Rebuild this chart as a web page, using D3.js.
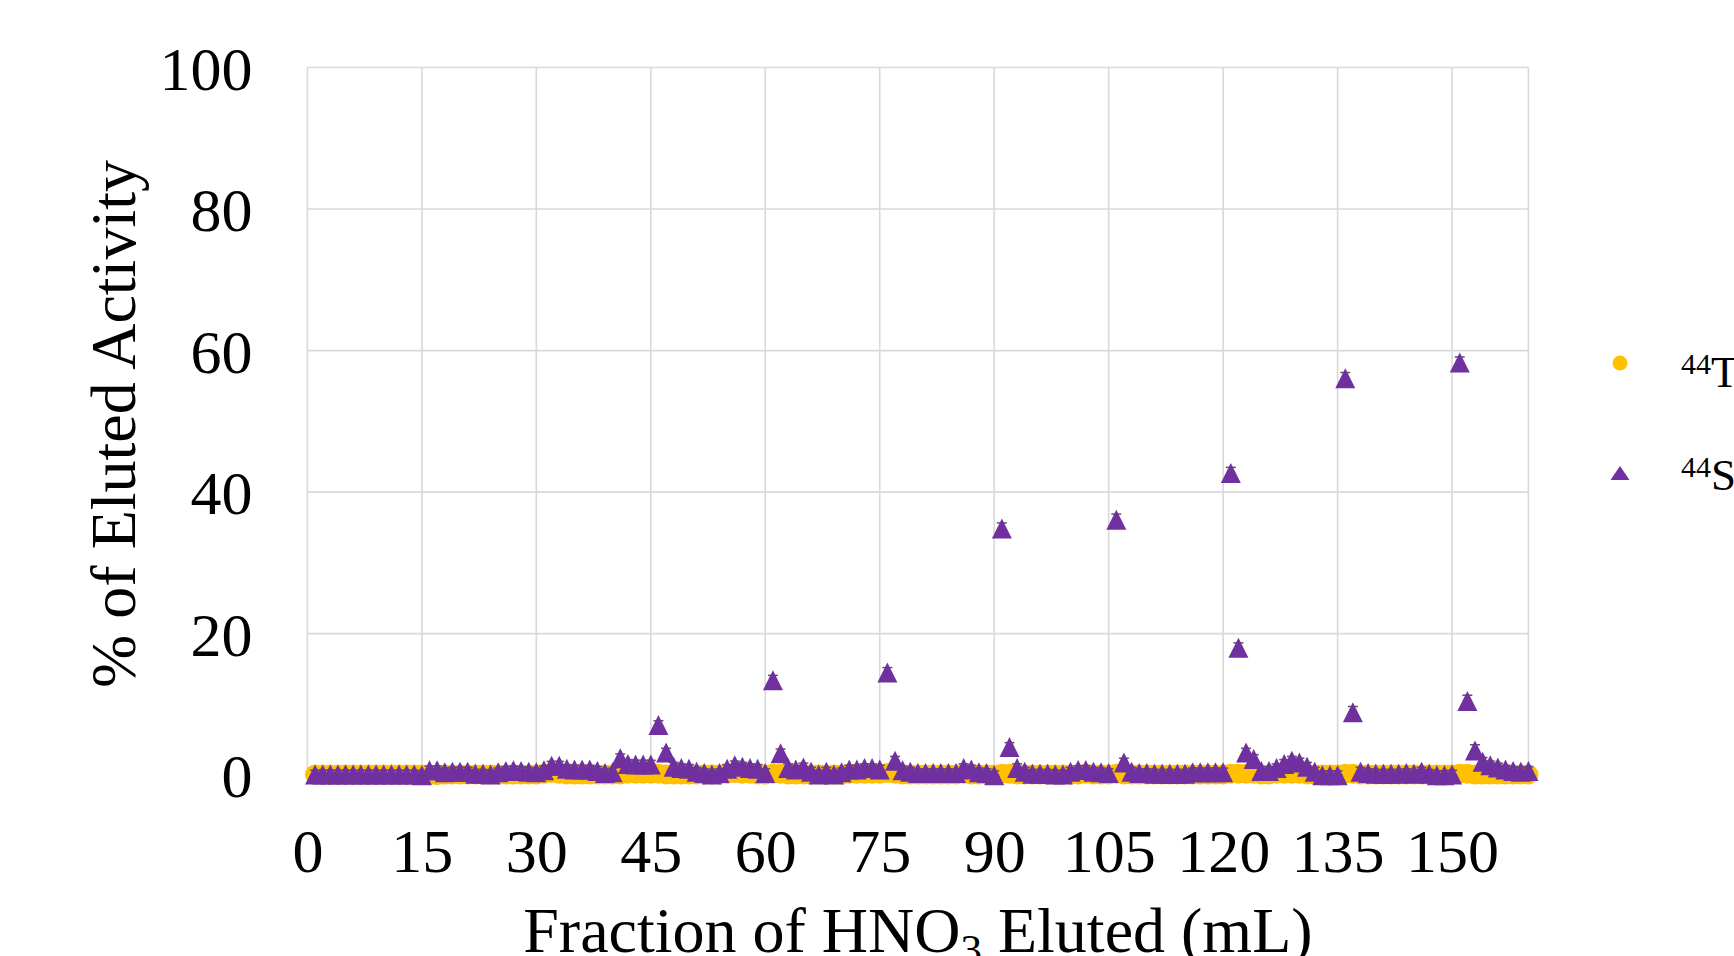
<!DOCTYPE html>
<html>
<head>
<meta charset="utf-8">
<script src="https://cdn.jsdelivr.net/npm/d3@7"></script>
<style>
  html, body { margin: 0; padding: 0; background: #ffffff; overflow: hidden; }
  svg { display: block; }
  text { font-family: "Liberation Serif", "Times New Roman", serif; fill: #000; }
</style>
</head>
<body>
<svg id="chart" width="1734" height="956"></svg>
<script>
// Fraction number (mL of HNO3 collected)
const fractions = [
  1,2,3,4,5,6,7,8,9,10,11,12,13,14,15,16,17,18,19,20,
  21,22,23,24,25,26,27,28,29,30,31,32,33,34,35,36,37,38,39,40,
  41,42,43,44,45,46,47,48,49,50,51,52,53,54,55,56,57,58,59,60,
  61,62,63,64,65,66,67,68,69,70,71,72,73,74,75,76,77,78,79,80,
  81,82,83,84,85,86,87,88,89,90,91,92,93,94,95,96,97,98,99,100,
  101,102,103,104,105,106,107,108,109,110,111,112,113,114,115,116,117,118,119,120,
  121,122,123,124,125,126,127,128,129,130,131,132,133,134,135,136,137,138,139,140,
  141,142,143,144,145,146,147,148,149,150,151,152,153,154,155,156,157,158,159,160
];

// % of eluted activity, 44Ti
const tiActivity = [
  0.1,0.1,0.1,0.1,0.1,0.1,0.1,0.1,0.1,0.1,0.1,0.1,0.1,0.1,0.1,0.0,0.0,0.1,0.1,0.1,
  0.1,0.1,0.1,0.1,0.1,0.1,0.1,0.1,0.1,0.1,0.2,0.3,0.2,0.1,0.1,0.1,0.1,0.1,0.1,0.1,
  0.1,0.2,0.2,0.2,0.2,0.2,0.1,0.1,0.1,0.1,0.1,0.1,0.1,0.1,0.2,0.3,0.2,0.2,0.1,0.1,
  0.2,0.2,0.1,0.1,0.1,0.1,0.1,0.1,0.1,0.1,0.2,0.2,0.2,0.2,0.2,0.3,0.2,0.1,0.1,0.1,
  0.1,0.1,0.1,0.1,0.1,0.2,0.1,0.1,0.1,0.1,0.2,0.2,0.1,0.1,0.1,0.1,0.1,0.1,0.1,0.1,
  0.1,0.2,0.1,0.1,0.1,0.2,0.1,0.1,0.1,0.1,0.1,0.1,0.1,0.1,0.1,0.1,0.1,0.1,0.1,0.1,
  0.2,0.2,0.2,0.2,0.1,0.1,0.2,0.2,0.2,0.2,0.1,0.1,0.1,0.1,0.1,0.2,0.2,0.1,0.1,0.1,
  0.1,0.1,0.1,0.1,0.1,0.1,0.1,0.1,0.1,0.1,0.2,0.2,0.1,0.1,0.1,0.1,0.1,0.1,0.1,0.1
];

// % of eluted activity, 44Sc
const scActivity = [
  0.1,0.1,0.1,0.1,0.1,0.1,0.1,0.1,0.1,0.1,0.1,0.1,0.1,0.1,0.0,0.7,0.7,0.4,0.5,0.5,
  0.5,0.2,0.2,0.1,0.4,0.6,0.7,0.6,0.5,0.4,0.7,1.35,1.35,0.9,0.8,0.8,0.8,0.6,0.3,0.4,
  2.4,1.6,1.5,1.5,1.5,7.1,3.2,1.2,1.0,0.9,0.5,0.3,0.1,0.3,0.9,1.4,1.2,1.0,0.9,0.3,
  13.4,3.1,1.0,0.8,1.1,0.5,0.1,0.5,0.1,0.4,0.8,0.8,1.0,1.0,0.8,14.5,2.05,0.7,0.5,0.3,
  0.3,0.3,0.3,0.3,0.3,1.0,0.8,0.4,0.3,0.0,34.85,4.0,1.0,0.5,0.2,0.2,0.2,0.1,0.1,0.5,
  0.75,0.75,0.5,0.4,0.3,36.1,1.8,0.5,0.3,0.3,0.2,0.2,0.2,0.2,0.2,0.4,0.4,0.4,0.4,0.4,
  42.7,18.0,3.2,2.3,0.6,0.6,1.0,1.6,2.05,1.8,1.2,0.5,0.0,0.0,0.0,56.1,8.9,0.5,0.3,0.2,
  0.2,0.2,0.2,0.3,0.2,0.5,0.2,0.0,0.0,0.1,58.3,10.5,3.5,1.9,1.4,1.1,0.8,0.6,0.5,0.6
];

// ± uncertainty on the 44Sc values
const scError = [
  0.6,0.6,0.6,0.6,0.6,0.6,0.6,0.6,0.6,0.6,0.6,0.6,0.6,0.6,0.6,0.6,0.6,0.6,0.6,0.6,
  0.6,0.6,0.6,0.6,0.6,0.6,0.6,0.6,0.6,0.6,0.6,0.6,0.6,0.6,0.6,0.6,0.6,0.6,0.6,0.6,
  0.6,0.6,0.6,0.6,0.6,0.6,0.6,0.6,0.6,0.6,0.6,0.6,0.6,0.6,0.6,0.6,0.6,0.6,0.6,0.6,
  0.7,0.6,0.6,0.6,0.6,0.6,0.6,0.6,0.6,0.6,0.6,0.6,0.6,0.6,0.6,0.7,0.6,0.6,0.6,0.6,
  0.6,0.6,0.6,0.6,0.6,0.6,0.6,0.6,0.6,0.6,0.8,0.6,0.6,0.6,0.6,0.6,0.6,0.6,0.6,0.6,
  0.6,0.6,0.6,0.6,0.6,0.8,0.6,0.6,0.6,0.6,0.6,0.6,0.6,0.6,0.6,0.6,0.6,0.6,0.6,0.6,
  0.8,0.7,0.6,0.6,0.6,0.6,0.6,0.6,0.6,0.6,0.6,0.6,0.6,0.6,0.6,0.8,0.8,0.6,0.6,0.6,
  0.6,0.6,0.6,0.6,0.6,0.6,0.6,0.6,0.6,0.6,0.8,0.8,0.8,0.6,0.6,0.6,0.6,0.6,0.6,0.6
];

const xTicks = [0, 15, 30, 45, 60, 75, 90, 105, 120, 135, 150];
const yTicks = [0, 20, 40, 60, 80, 100];

const seriesNames = ["Ti", "Sc"];
const massNumber = "44";
const colors = { Ti: "#FFC000", Sc: "#7030A0" };

const svg = d3.select("#chart");
const W = 1734, H = 956;
const plot = { left: 307.4, right: 1528.4, top: 67.5, bottom: 775.2 };

svg.append("rect").attr("width", W).attr("height", H).attr("fill", "#fff");

const x = d3.scaleLinear().domain([0, 160]).range([plot.left, plot.right]);
const y = d3.scaleLinear().domain([0, 100]).range([plot.bottom, plot.top]);

const gridColor = "#d9d9d9";
const tickFont = 62;

// horizontal gridlines + y tick labels
const yAxis = svg.append("g")
  .attr("transform", `translate(${plot.left},0)`)
  .call(d3.axisLeft(y).tickValues(yTicks).tickSize(0).tickPadding(55).tickFormat(d3.format("d")));
yAxis.select(".domain").remove();
yAxis.selectAll("text").attr("font-size", tickFont).attr("dy", "0.35em")
  .style("font-family", '"Liberation Serif", "Times New Roman", serif');

svg.append("g").selectAll("line").data(yTicks).join("line")
  .attr("x1", plot.left).attr("x2", plot.right)
  .attr("y1", d => y(d)).attr("y2", d => y(d))
  .attr("stroke", gridColor).attr("stroke-width", 1.6);

// vertical gridlines + x tick labels
svg.append("g").selectAll("line").data(xTicks.concat([160])).join("line")
  .attr("x1", d => x(d)).attr("x2", d => x(d))
  .attr("y1", plot.top).attr("y2", plot.bottom)
  .attr("stroke", gridColor).attr("stroke-width", 1.6);

const xAxis = svg.append("g")
  .attr("transform", `translate(0,${plot.bottom})`)
  .call(d3.axisBottom(x).tickValues(xTicks).tickSize(0).tickPadding(53).tickFormat(d3.format("d")));
xAxis.select(".domain").remove();
xAxis.selectAll("text").attr("font-size", tickFont)
  .style("font-family", '"Liberation Serif", "Times New Roman", serif');

// axis titles
svg.append("text")
  .attr("transform", `translate(135,424) rotate(-90)`)
  .attr("text-anchor", "middle")
  .attr("font-size", 64)
  .text("% of Eluted Activity");

const xTitle = svg.append("text")
  .attr("x", (plot.left + plot.right) / 2)
  .attr("y", 952)
  .attr("text-anchor", "middle")
  .attr("font-size", 64);
xTitle.append("tspan").text("Fraction of HNO");
xTitle.append("tspan").attr("font-size", 43).attr("dy", 12).text("3");
xTitle.append("tspan").attr("dy", -12).text(" Eluted (mL)");

// data rows
const rows = fractions.map((f, i) => ({ f, ti: tiActivity[i], sc: scActivity[i], err: scError[i] }));

// 44Ti markers (circles)
svg.append("g").selectAll("circle").data(rows).join("circle")
  .attr("cx", d => x(d.f)).attr("cy", d => y(d.ti)).attr("r", 10)
  .attr("fill", colors.Ti);

// 44Sc error bars
const eb = svg.append("g").attr("stroke", "#595959").attr("stroke-width", 1.5);
const cap = 5;
rows.forEach(d => {
  const x0 = x(d.f), yt = y(d.sc + d.err), yb = y(Math.max(0, d.sc - d.err));
  eb.append("line").attr("x1", x0).attr("x2", x0).attr("y1", yt).attr("y2", yb);
  eb.append("line").attr("x1", x0 - cap).attr("x2", x0 + cap).attr("y1", yt).attr("y2", yt);
  eb.append("line").attr("x1", x0 - cap).attr("x2", x0 + cap).attr("y1", yb).attr("y2", yb);
});

// 44Sc markers (triangles)
const triHalfW = 10, triHalfH = 10;
const triPath = `M0,${-triHalfH}L${triHalfW},${triHalfH}L${-triHalfW},${triHalfH}Z`;
svg.append("g").selectAll("path").data(rows).join("path")
  .attr("d", triPath)
  .attr("transform", d => `translate(${x(d.f)},${y(d.sc)})`)
  .attr("fill", colors.Sc);

// legend
const legend = svg.append("g");
legend.append("circle").attr("cx", 1620).attr("cy", 363).attr("r", 7.5).attr("fill", colors.Ti);
legend.append("path")
  .attr("d", "M0,-7L9.5,7L-9.5,7Z")
  .attr("transform", "translate(1620,473)")
  .attr("fill", colors.Sc);

[[seriesNames[0], 387], [seriesNames[1], 490]].forEach(([name, base]) => {
  const t = legend.append("text").attr("x", 1681).attr("y", base).attr("font-size", 45);
  t.append("tspan").attr("font-size", 30).attr("dy", -13.5).text(massNumber);
  t.append("tspan").attr("dy", 13.5).text(name);
});
</script>
</body>
</html>
